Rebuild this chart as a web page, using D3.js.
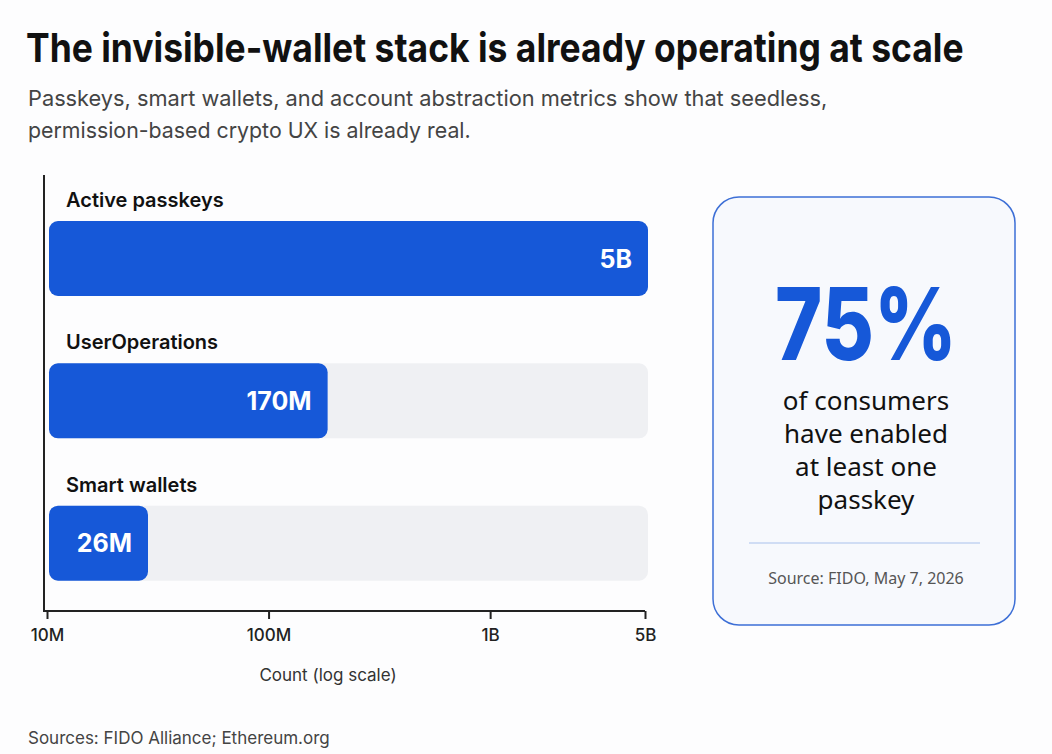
<!DOCTYPE html>
<html>
<head>
<meta charset="utf-8">
<script src="https://cdn.jsdelivr.net/npm/d3@7"></script>
<style>
  html, body { margin: 0; padding: 0; background: #fdfdfe; }
  svg { display: block; font-family: Inter, "Noto Sans", sans-serif; }
</style>
</head>
<body>
<svg id="chart" width="1052" height="754"></svg>
<script>
// Metrics shown as bars (log scale)
const categories = ['Active passkeys', 'UserOperations', 'Smart wallets'];
const values = [5e9, 170e6, 26e6];
const valueLabels = ['5B', '170M', '26M'];

const tickValues = [1e7, 1e8, 1e9, 5e9];
const tickLabels = ['10M', '100M', '1B', '5B'];

// Callout card
const statValue = '75%';
const statLines = ['of consumers', 'have enabled', 'at least one', 'passkey'];
const statSource = 'Source: FIDO, May 7, 2026';

const BLUE = '#1658d8';
const TRACK = '#eff0f3';

const svg = d3.select('#chart');

// squeeze a text horizontally to a target width (condensed look)
function squeezed(parent, x, y, w, anchor) {
  const g = parent.append('g');
  const t = g.append('text').attr('text-anchor', anchor || 'start');
  return {
    t,
    done() {
      const sx = Math.min(1, w / t.node().getComputedTextLength());
      g.attr('transform', `translate(${x},${y}) scale(${sx},1)`);
      return t;
    }
  };
}

// Header
let s = squeezed(svg, 26, 62, 938);
s.t.attr('font-size', 40).attr('font-weight', 700).attr('fill', '#111')
  .text('The invisible-wallet stack is already operating at scale');
s.done();

s = squeezed(svg, 28, 106, 800);
s.t.attr('font-size', 22).attr('fill', '#444')
  .text('Passkeys, smart wallets, and account abstraction metrics show that seedless,');
s.done();

s = squeezed(svg, 28, 138, 443);
s.t.attr('font-size', 22).attr('fill', '#444')
  .text('permission-based crypto UX is already real.');
s.done();

// Bar chart
const x = d3.scaleLog().domain([1e7, 5e9]).range([47, 645]);
const y = d3.scaleBand().domain(categories).range([221, 648]).paddingInner(0.0);

const BAR_X = 49, BAR_H = 75, BAR_R = 9;
const TRACK_END = 648;
const barEnd = (i) => Math.max(x(values[i]), 140) + (i === 0 ? 3 : 8);

const rows = svg.append('g').selectAll('g')
  .data(categories)
  .join('g')
  .attr('transform', d => `translate(0,${y(d)})`);

rows.append('text')
  .attr('x', 66).attr('y', -14)
  .attr('font-size', 20).attr('font-weight', 600)
  .attr('fill', '#111')
  .text(d => d);

rows.append('rect')
  .attr('x', BAR_X).attr('y', 0)
  .attr('width', TRACK_END - BAR_X).attr('height', BAR_H)
  .attr('rx', BAR_R)
  .attr('fill', TRACK);

rows.append('rect')
  .attr('x', BAR_X).attr('y', 0)
  .attr('width', (d, i) => barEnd(i) - BAR_X)
  .attr('height', BAR_H)
  .attr('rx', BAR_R)
  .attr('fill', BLUE);

rows.append('text')
  .attr('x', (d, i) => barEnd(i) - 16)
  .attr('y', BAR_H / 2 + 9)
  .attr('text-anchor', 'end')
  .attr('font-size', 25).attr('font-weight', 700)
  .attr('fill', '#fff')
  .text((d, i) => valueLabels[i]);

// Axes
svg.append('line')
  .attr('x1', 44).attr('x2', 44)
  .attr('y1', 175).attr('y2', 612)
  .attr('stroke', '#222').attr('stroke-width', 2);

const xAxis = d3.axisBottom(x)
  .tickValues(tickValues)
  .tickFormat((d, i) => tickLabels[i])
  .tickSize(8).tickSizeOuter(0);

const ax = svg.append('g')
  .attr('transform', 'translate(0,603)')
  .call(xAxis);
ax.select('.domain').attr('d', 'M44,8H645').attr('stroke', '#222').attr('stroke-width', 2);
ax.selectAll('.tick line').attr('stroke', '#222').attr('stroke-width', 2).attr('y1', 8).attr('y2', 16);
ax.selectAll('.tick text')
  .attr('y', 26)
  .attr('font-family', 'Inter, "Noto Sans", sans-serif')
  .attr('font-size', 17).attr('font-weight', 500)
  .attr('fill', '#222');

svg.append('text')
  .attr('x', 328).attr('y', 681)
  .attr('text-anchor', 'middle')
  .attr('font-size', 17).attr('fill', '#333')
  .text('Count (log scale)');

// Footer
svg.append('text')
  .attr('x', 28).attr('y', 744)
  .attr('font-size', 17).attr('fill', '#444')
  .text('Sources: FIDO Alliance; Ethereum.org');

// Callout card
const card = svg.append('g');
card.append('rect')
  .attr('x', 713).attr('y', 197)
  .attr('width', 302).attr('height', 428)
  .attr('rx', 26)
  .attr('fill', '#f7f9fd')
  .attr('stroke', '#3d6fd6').attr('stroke-width', 1.5);

const cx = 866;
s = squeezed(card, cx, 360, 182, 'middle');
s.t.attr('font-size', 100).attr('font-weight', 800).attr('fill', BLUE)
  .text(statValue);
s.done();

card.selectAll('text.line')
  .data(statLines)
  .join('text')
  .attr('class', 'line')
  .attr('x', cx)
  .attr('y', (d, i) => 410 + i * 33)
  .attr('text-anchor', 'middle')
  .attr('font-size', 26)
  .attr('font-family', '"Noto Sans", sans-serif')
  .attr('fill', '#111')
  .text(d => d);

card.append('line')
  .attr('x1', 749).attr('x2', 980)
  .attr('y1', 543).attr('y2', 543)
  .attr('stroke', '#a9c1ec').attr('stroke-width', 1);

card.append('text')
  .attr('x', cx).attr('y', 584)
  .attr('text-anchor', 'middle')
  .attr('font-size', 16)
  .attr('font-family', '"Noto Sans", sans-serif')
  .attr('fill', '#555')
  .text(statSource);
</script>
</body>
</html>
